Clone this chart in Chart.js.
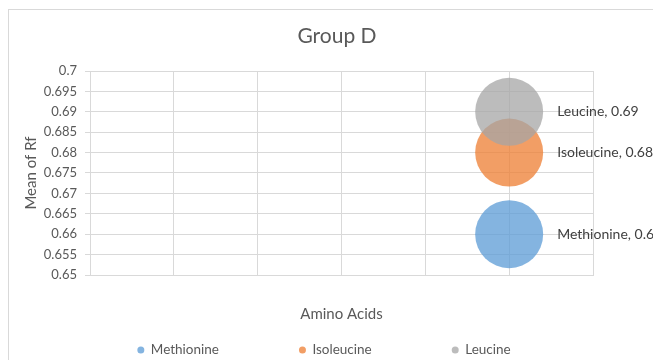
<!DOCTYPE html>
<html>
<head>
<meta charset="utf-8">
<script src="https://cdn.jsdelivr.net/npm/chart.js@4/dist/chart.umd.min.js"></script>
<style>
  html, body { margin: 0; padding: 0; background: #fff; }
  #wrap { position: relative; width: 653px; height: 360px; overflow: hidden; }
  #frame { position: absolute; left: 8px; top: 9px; width: 700px; height: 400px; border: 1px solid #d9d9d9; box-sizing: border-box; }
  #myChart { position: absolute; left: 0; top: 0; }
</style>
</head>
<body>
<div id="wrap">
  <div id="frame"></div>
  <canvas id="myChart" width="653" height="360"></canvas>
</div>
<script>
// Datos de la gráfica
const aminoacidos = ['Methionine', 'Isoleucine', 'Leucine'];
const posicionX = [5, 5, 5];
const mediaRf = [0.66, 0.68, 0.69];
const tamanoBurbuja = [1, 1, 1];
const ticksY = [0.65, 0.655, 0.66, 0.665, 0.67, 0.675, 0.68, 0.685, 0.69, 0.695, 0.7];

const colores = ['rgba(91, 155, 213, 0.75)', 'rgba(237, 125, 49, 0.75)', 'rgba(165, 165, 165, 0.75)'];
const fuente = 'Lato';
const gris = '#595959';
const lineas = '#d9d9d9';
const escalaBurbuja = 34; // radio en px para tamaño 1

// Etiquetas de datos a la derecha de cada burbuja
const etiquetasDatos = {
    id: 'etiquetasDatos',
    afterDatasetsDraw(chart) {
        const ctx = chart.ctx;
        ctx.save();
        ctx.font = '14px ' + fuente;
        ctx.fillStyle = '#404040';
        ctx.textBaseline = 'middle';
        ctx.textAlign = 'left';
        chart.data.datasets.forEach((ds, i) => {
            const el = chart.getDatasetMeta(i).data[0];
            const r = el.options.radius;
            ctx.fillText(ds.label + ', ' + ds.data[0].y, el.x + r + 14, el.y);
        });
        ctx.restore();
    }
};

// Leyenda dibujada a mano (espaciado ancho como en Excel)
const leyenda = {
    id: 'leyenda',
    afterDraw(chart) {
        const ctx = chart.ctx;
        ctx.save();
        ctx.font = '13.5px ' + fuente;
        ctx.textBaseline = 'middle';
        const y = 350;
        const gap = 80;
        const anchos = chart.data.datasets.map(ds => 13.5 + ctx.measureText(ds.label).width);
        const total = anchos.reduce((a, b) => a + b, 0) + gap * (anchos.length - 1);
        let x = 324 - total / 2;
        chart.data.datasets.forEach((ds, i) => {
            ctx.fillStyle = ds.backgroundColor;
            ctx.beginPath();
            ctx.arc(x + 3.5, y, 3.5, 0, Math.PI * 2);
            ctx.fill();
            ctx.fillStyle = gris;
            ctx.fillText(ds.label, x + 13.5, y);
            x += anchos[i] + gap;
        });
        ctx.restore();
    }
};

const datasets = aminoacidos.map((nombre, i) => ({
    label: nombre,
    data: [{ x: posicionX[i], y: mediaRf[i], r: tamanoBurbuja[i] * escalaBurbuja }],
    backgroundColor: colores[i],
    borderWidth: 0,
    hoverBorderWidth: 0,
    order: aminoacidos.length - i
}));

const ctx = document.getElementById('myChart').getContext('2d');
const myChart = new Chart(ctx, {
    type: 'bubble',
    data: { datasets },
    plugins: [etiquetasDatos, leyenda],
    options: {
        responsive: false,
        animation: false,
        events: [],
        layout: { padding: { left: 21, right: 0, top: 9, bottom: 0 } },
        plugins: {
            legend: { display: false },
            tooltip: { enabled: false },
            title: {
                display: true,
                text: 'Group D',
                color: gris,
                font: { family: fuente, size: 21, weight: 'normal' },
                padding: { top: 15, bottom: 21.8 }
            }
        },
        scales: {
            x: {
                type: 'linear',
                min: 0,
                max: 6,
                ticks: { display: false, stepSize: 1 },
                grid: { color: lineas, drawTicks: false },
                border: { color: lineas },
                title: {
                    display: true,
                    text: 'Amino Acids',
                    color: gris,
                    font: { family: fuente, size: 15 },
                    padding: { top: 0, bottom: 37 }
                },
                afterFit(scale) { scale.height = 85; }
            },
            y: {
                min: 0.65,
                max: 0.7,
                afterBuildTicks(scale) { scale.ticks = ticksY.map(v => ({ value: v })); },
                ticks: {
                    color: gris,
                    font: { family: fuente, size: 13 },
                    padding: 8,
                    callback: v => String(v)
                },
                grid: { color: lineas, tickLength: 5 },
                border: { color: lineas },
                title: {
                    display: true,
                    text: 'Mean of Rf',
                    color: gris,
                    font: { family: fuente, size: 15 },
                    padding: { top: 1, bottom: 0 }
                },
                afterFit(scale) { scale.width = 69; }
            },
            // eje vacío a la derecha para dejar sitio a las etiquetas
            derecha: {
                position: 'right',
                min: 0,
                max: 1,
                ticks: { display: false },
                grid: { display: false },
                border: { display: false },
                afterFit(scale) { scale.width = 60; }
            }
        }
    }
});
</script>
</body>
</html>
